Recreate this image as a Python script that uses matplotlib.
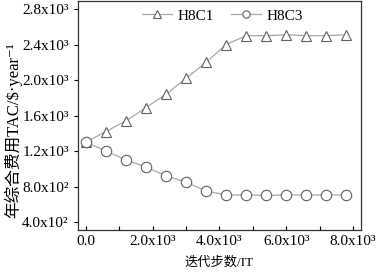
import matplotlib
matplotlib.use("Agg")
import matplotlib.pyplot as plt
from matplotlib.ticker import FuncFormatter, MultipleLocator

plt.rcParams['font.family'] = ['Liberation Serif', 'Noto Sans CJK SC', 'DejaVu Sans']
plt.rcParams['font.size'] = 11

# iteration steps
iters = [0, 600, 1200, 1800, 2400, 3000, 3600, 4200, 4800, 5400, 6000, 6600, 7200, 7800]
h8c1 = [1300, 1420, 1540, 1690, 1840, 2020, 2200, 2400, 2500, 2500, 2510, 2500, 2500, 2510]
h8c3 = [1300, 1200, 1100, 1020, 920, 850, 750, 705, 705, 700, 705, 705, 705, 705]

sup = {'2': '\u00b2', '3': '\u00b3'}


def fmt(v, pos):
    if v == 0:
        return "0.0"
    if v < 0:
        return ""
    exp = len(str(int(abs(v)))) - 1
    if str(exp) not in sup:
        return ""
    return f"{v / 10 ** exp:.1f}x10{sup[str(exp)]}"


fig = plt.figure(figsize=(3.78, 2.73), dpi=100)
ax = fig.add_axes([0.206, 0.1575, 0.749, 0.8385])

line_c = '#a8a8a8'
edge_c = '#606060'
ax.plot(iters, h8c1, color=line_c, lw=0.9, marker='^', ms=7.5, mfc='white',
        mec=edge_c, mew=0.8, label='H8C1')
ax.plot(iters, h8c3, color=line_c, lw=0.9, marker='o', ms=7.5, mfc='white',
        mec=edge_c, mew=0.8, label='H8C3')

ax.set_xlim(-240, 8240)
ax.set_ylim(310, 2890)
ax.xaxis.set_major_locator(MultipleLocator(2000))
ax.xaxis.set_minor_locator(MultipleLocator(1000))
ax.yaxis.set_major_locator(MultipleLocator(400))
ax.xaxis.set_major_formatter(FuncFormatter(fmt))
ax.yaxis.set_major_formatter(FuncFormatter(fmt))
ax.tick_params(axis='x', which='both', direction='in', length=3, width=0.8, top=False)
ax.tick_params(axis='y', direction='out', length=3, width=0.8, right=False)
for s in ax.spines.values():
    s.set_color('#333333')
    s.set_linewidth(0.9)

ax.set_xlabel('迭代步数/IT', fontsize=9.5, labelpad=6)
fig.text(13 / 378, 1 - 130 / 273, '年综合费用TAC/$·year\u207b\u00b9', fontsize=12,
         rotation=90, ha='center', va='center')

ax.legend(loc='center left', ncol=2, frameon=False, bbox_to_anchor=(0.225, 0.935),
          markerscale=0.7, handlelength=2.0, columnspacing=1.1,
          handletextpad=0.35, borderaxespad=0, borderpad=0)

fig.savefig('out.png', dpi=100)
